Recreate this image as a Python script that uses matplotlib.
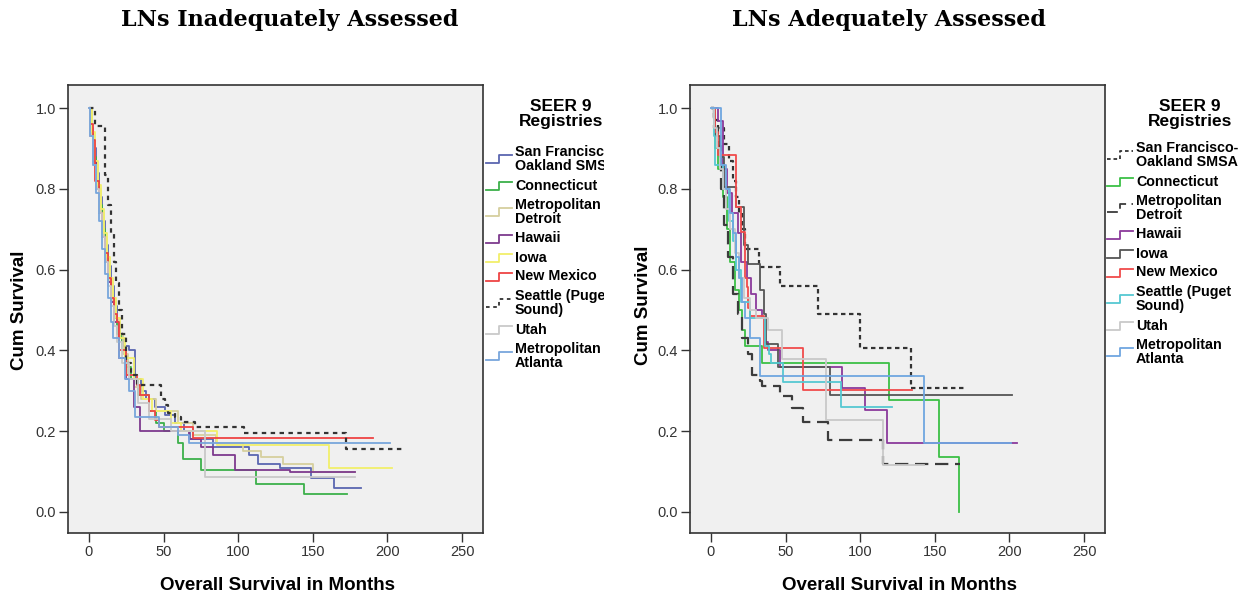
#!/usr/bin/env python3
import matplotlib
matplotlib.use("Agg")
import matplotlib.pyplot as plt

# registries shown in both legends
registries = ["San Francisco-\nOakland SMSA", "Connecticut", "Metropolitan\nDetroit",
              "Hawaii", "Iowa", "New Mexico", "Seattle (Puget\nSound)", "Utah",
              "Metropolitan\nAtlanta"]

# LNs inadequately assessed: step breakpoints (months, cum survival)
inad_t = [
    [0, 1, 3, 5, 7, 9, 11, 13, 15, 17, 19, 21, 23, 27, 31, 35, 38, 44, 51, 58, 64, 68, 83, 107, 113, 128, 149, 164, 182],
    [0, 1, 3, 5, 7, 9, 11, 13, 15, 17, 19, 22, 25, 28, 33, 40, 45, 50, 60, 63, 75, 112, 144, 173],
    [0, 2, 4, 6, 8, 10, 12, 14, 16, 18, 20, 23, 26, 30, 35, 45, 60, 70, 85, 103, 115, 130, 150, 178],
    [0, 1, 3, 5, 7, 9, 11, 13, 15, 17, 20, 25, 30, 34, 67, 75, 83, 98, 135, 178],
    [0, 2, 4, 6, 8, 10, 12, 14, 16, 18, 21, 24, 30, 36, 42, 55, 62, 86, 161, 203],
    [0, 1, 3, 4, 7, 9, 11, 13, 15, 17, 19, 20, 25, 32, 34, 40, 44, 47, 70, 190],
    [0, 4, 11, 13, 15, 17, 18, 20, 22, 25, 28, 32, 48, 51, 53, 58, 62, 71, 104, 172, 211],
    [0, 1, 3, 5, 7, 9, 11, 13, 15, 17, 19, 22, 27, 33, 40, 55, 78, 178],
    [0, 1, 3, 5, 7, 9, 11, 13, 15, 16, 20, 24, 27, 31, 47, 60, 67, 202],
]
inad_s = [
    [1.0, 0.95, 0.9, 0.84, 0.78, 0.72, 0.66, 0.61, 0.56, 0.51, 0.47, 0.43, 0.41, 0.40, 0.33, 0.30, 0.28, 0.26, 0.24, 0.22, 0.20, 0.18, 0.16, 0.14, 0.12, 0.11, 0.083, 0.06, 0.06],
    [1.0, 0.94, 0.88, 0.82, 0.76, 0.70, 0.64, 0.58, 0.53, 0.48, 0.44, 0.40, 0.36, 0.33, 0.29, 0.25, 0.22, 0.20, 0.17, 0.13, 0.105, 0.07, 0.045, 0.045],
    [1.0, 0.93, 0.86, 0.80, 0.74, 0.68, 0.62, 0.57, 0.52, 0.48, 0.44, 0.39, 0.34, 0.31, 0.28, 0.25, 0.22, 0.19, 0.17, 0.15, 0.137, 0.12, 0.10, 0.10],
    [1.0, 0.93, 0.87, 0.80, 0.74, 0.68, 0.62, 0.57, 0.52, 0.47, 0.38, 0.33, 0.26, 0.20, 0.18, 0.16, 0.14, 0.105, 0.10, 0.10],
    [1.0, 0.94, 0.87, 0.81, 0.75, 0.69, 0.63, 0.58, 0.53, 0.48, 0.43, 0.38, 0.33, 0.28, 0.25, 0.22, 0.20, 0.166, 0.108, 0.108],
    [1.0, 0.96, 0.92, 0.82, 0.74, 0.68, 0.64, 0.58, 0.53, 0.49, 0.47, 0.40, 0.34, 0.315, 0.29, 0.25, 0.228, 0.211, 0.184, 0.184],
    [1.0, 0.955, 0.835, 0.76, 0.69, 0.62, 0.566, 0.50, 0.44, 0.37, 0.34, 0.315, 0.28, 0.265, 0.245, 0.235, 0.224, 0.21, 0.195, 0.155, 0.155],
    [1.0, 0.93, 0.86, 0.80, 0.74, 0.68, 0.62, 0.56, 0.51, 0.46, 0.42, 0.37, 0.33, 0.27, 0.23, 0.20, 0.086, 0.086],
    [1.0, 0.93, 0.86, 0.79, 0.72, 0.65, 0.59, 0.53, 0.47, 0.43, 0.38, 0.33, 0.30, 0.236, 0.21, 0.19, 0.172, 0.172],
]

# LNs adequately assessed
adeq_t = [
    [0, 2, 5, 9, 12, 15, 17, 19, 21, 23, 32, 46, 72, 100, 134, 170],
    [0, 2, 3, 5, 8, 11, 13, 16, 19, 21, 23, 34, 119, 152.6, 166],
    [0, 2, 4.6, 7, 8.6, 11.3, 15, 18, 21, 25, 27.5, 33, 34, 46, 54, 62, 78.6, 115, 167],
    [0, 4.6, 8, 11, 14, 18, 20, 24, 27, 30, 34, 36, 38, 46, 88, 103, 118, 205],
    [0, 3, 6, 8.6, 17, 22, 25, 33, 35.5, 37, 45, 80, 202],
    [0, 3, 5, 17, 20, 23, 24, 25, 26, 35.5, 62, 135],
    [0, 2, 3, 8, 12, 15, 17, 20, 26, 36, 39, 40, 48, 87, 121],
    [0, 2, 4, 6, 8, 10, 13, 16, 19, 22, 26, 30, 38, 47.6, 77, 115, 143],
    [0, 6.5, 10, 13, 15, 17, 19, 21, 23, 26, 33, 143, 201],
]
adeq_s = [
    [1.0, 0.97, 0.95, 0.91, 0.87, 0.82, 0.78, 0.74, 0.70, 0.65, 0.606, 0.56, 0.49, 0.407, 0.307, 0.307],
    [1.0, 0.95, 0.90, 0.85, 0.78, 0.70, 0.62, 0.55, 0.50, 0.45, 0.41, 0.37, 0.278, 0.137, 0.0],
    [1.0, 0.95, 0.905, 0.80, 0.71, 0.63, 0.54, 0.49, 0.43, 0.39, 0.34, 0.324, 0.311, 0.286, 0.257, 0.224, 0.178, 0.12, 0.12],
    [1.0, 0.967, 0.85, 0.79, 0.74, 0.69, 0.62, 0.58, 0.54, 0.50, 0.48, 0.42, 0.40, 0.36, 0.307, 0.253, 0.17, 0.17],
    [1.0, 0.93, 0.88, 0.805, 0.755, 0.66, 0.614, 0.55, 0.49, 0.415, 0.36, 0.29, 0.29],
    [1.0, 0.94, 0.884, 0.755, 0.693, 0.58, 0.556, 0.506, 0.485, 0.407, 0.303, 0.303],
    [1.0, 0.93, 0.86, 0.80, 0.72, 0.67, 0.60, 0.52, 0.48, 0.41, 0.39, 0.37, 0.323, 0.26, 0.26],
    [1.0, 0.95, 0.90, 0.85, 0.80, 0.75, 0.70, 0.64, 0.58, 0.53, 0.50, 0.48, 0.45, 0.378, 0.228, 0.116, 0.116],
    [1.0, 0.86, 0.80, 0.74, 0.69, 0.63, 0.58, 0.52, 0.48, 0.43, 0.336, 0.17, 0.17],
]

# styles per registry (colour, dash)
inad_colors = ["#5a66b0", "#3cb04a", "#d6cf9e", "#7d3a8e", "#f2ef6a", "#ee4444",
               "#333333", "#c9c9c9", "#78a6dc"]
inad_dash = ["-", "-", "-", "-", "-", "-", (0, (2, 2)), "-", "-"]
adeq_colors = ["#333333", "#3cc046", "#3c3c3c", "#8b3a9b", "#555555", "#f04b4b",
               "#55c8d2", "#c9c9c9", "#6fa6e0"]
adeq_dash = [(0, (2, 1.6)), "-", (0, (6, 3)), "-", "-", "-", "-", "-", "-"]

W, H = 1252, 596
fig = plt.figure(figsize=(W / 100, H / 100), dpi=100)

sans = "Liberation Sans"


def px_box(x0, x1, y0, y1):
    return [x0 / W, 1 - y1 / H, (x1 - x0) / W, (y1 - y0) / H]


def draw_panel(box, times, surv, colors, dashes):
    ax = fig.add_axes(box)
    ax.set_facecolor("#f0f0f0")
    for t, s, c, d in zip(times, surv, colors, dashes):
        lw = 1.6 if d != "-" else 1.3
        ax.step(t, s, where="post", color=c, linestyle=d, lw=lw)
    ax.set_xlim(-14, 264)
    ax.set_ylim(-0.052, 1.057)
    ax.set_xticks([0, 50, 100, 150, 200, 250])
    ax.set_yticks([0.0, 0.2, 0.4, 0.6, 0.8, 1.0])
    ax.set_yticklabels(["0.0", "0.2", "0.4", "0.6", "0.8", "1.0"])
    ax.tick_params(direction="out", length=6.5, width=1.0, labelsize=10.5,
                   colors="#333333", pad=2)
    for lab in ax.get_xticklabels() + ax.get_yticklabels():
        lab.set_fontfamily(sans)
    for sp in ax.spines.values():
        sp.set_color("#333333")
        sp.set_linewidth(1.2)
    return ax


def draw_legend(x0, x1, colors, dashes, title_x, first_center):
    lg = fig.add_axes(px_box(x0, x1, 0, H))
    lg.set_xlim(x0, x1)
    lg.set_ylim(H, 0)
    lg.axis("off")
    lg.text(title_x, 114, "SEER 9\nRegistries", ha="center", va="center",
            fontsize=12.5, fontweight="bold", family=sans, linespacing=0.95,
            clip_on=True)
    yc = first_center
    prev = None
    for name, c, d in zip(registries, colors, dashes):
        nlines = name.count("\n") + 1
        if prev is not None:
            yc += 9.5 + 7.5 * (prev - 1) + 9.5 + 7.5 * (nlines - 1)
        prev = nlines
        lg.plot([x0 + 1, x0 + 14, x0 + 14, x0 + 27],
                [yc + 4, yc + 4, yc - 4, yc - 4], color=c, linestyle=d,
                lw=1.3, clip_on=True)
        lg.text(x0 + 30, yc, name, ha="left", va="center", fontsize=10.3,
                fontweight="bold", family=sans, linespacing=0.97, clip_on=True)


ax1 = draw_panel(px_box(68, 483, 85, 533), inad_t, inad_s, inad_colors, inad_dash)
ax2 = draw_panel(px_box(690, 1105, 85, 533), adeq_t, adeq_s, adeq_colors, adeq_dash)

draw_legend(485, 604, inad_colors, inad_dash, 561, 159)
draw_legend(1106, 1252, adeq_colors, adeq_dash, 1190, 155)

# titles
fig.text(290 / W, 1 - 20 / H, "LNs Inadequately Assessed", ha="center", va="center",
         fontsize=16, fontweight="bold", family="DejaVu Serif")
fig.text(889 / W, 1 - 20 / H, "LNs Adequately Assessed", ha="center", va="center",
         fontsize=16, fontweight="bold", family="DejaVu Serif")

# axis labels
for xc, yc in [(20, 310), (643, 305)]:
    fig.text(xc / W, 1 - yc / H, "Cum Survival", rotation=90, ha="center",
             va="center", fontsize=13.5, fontweight="bold", family=sans)
for xc in [277, 899]:
    fig.text(xc / W, 1 - 585 / H, "Overall Survival in Months", ha="center",
             va="center", fontsize=13.5, fontweight="bold", family=sans)

fig.savefig("out.png", dpi=100)
